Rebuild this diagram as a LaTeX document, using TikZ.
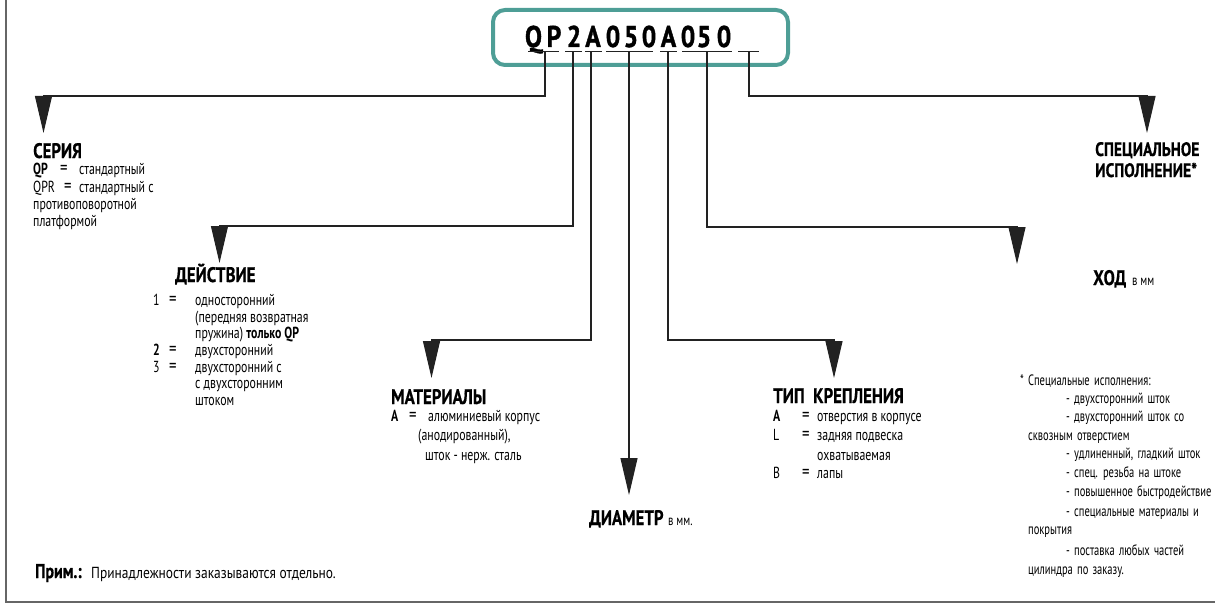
\documentclass[tikz,border=0pt]{standalone}
\usepackage{fontspec}
\setmainfont{PT Sans}
\newfontfamily\nf{PT Sans}[FakeStretch=0.8, FakeBold=0.6]
\newfontfamily\bodyfam{PT Sans}[FakeStretch=0.74]
\newfontfamily\wf{PT Sans}[FakeStretch=0.84]
\newfontfamily\ff{PT Sans}[FakeStretch=0.7, WordSpace=1.5]
\newfontfamily\cf{PT Sans}[FakeStretch=0.85, FakeBold=1.2]
\newcommand{\eqs}{\smash{\fontsize{20}{20}\selectfont =}}
\usetikzlibrary{arrows.meta}
\definecolor{tealbox}{HTML}{4E9E96}
\definecolor{ink}{HTML}{222222}
\tikzset{
  head/.style={font=\nf\bfseries\fontsize{21}{23}\selectfont, anchor=base west, inner sep=0pt, text=black},
  body/.style={font=\bodyfam\fontsize{16}{18}\selectfont, anchor=base west, inner sep=0pt, text=black},
  bodyb/.style={font=\bodyfam\bfseries\fontsize{16}{18}\selectfont, anchor=base west, inner sep=0pt, text=black},
  eqn/.style={font=\bodyfam\fontsize{16}{18}\selectfont, anchor=base west, inner sep=0pt, text=black},
  small/.style={font=\bodyfam\fontsize{14.5}{16}\selectfont, anchor=base west, inner sep=0pt, text=black},
  note/.style={font=\wf\fontsize{16}{18}\selectfont, anchor=base west, inner sep=0pt, text=black},
  fnote/.style={font=\ff\fontsize{15}{17}\selectfont, anchor=base west, inner sep=0pt, text=black},
  code/.style={font=\cf\bfseries\fontsize{30}{32}\selectfont, anchor=base, inner sep=0pt, text=black},
  conn/.style={draw=ink, line width=1.1pt, -{Triangle[width=17pt,length=37pt]}},
  uline/.style={draw=ink, line width=1pt},
}
\begin{document}
\begin{tikzpicture}[x=1pt,y=-1pt]
\useasboundingbox (0,0) rectangle (1215,607);
% frame
\draw[draw=black!60, line width=1.5pt] (6,0) -- (6,602) -- (1215,602);
% code box
\draw[tealbox, line width=4pt, rounded corners=12pt] (493,10) rectangle (788,65);
\foreach \c/\x [count=\i] in {Q/533.5,P/554,2/574,A/593,0/613,5/631,0/649,A/668.5,0/688,5/704,0/724}
  \node[code] (ch\i) at (\x,47) {\c};
% underlines
\draw[uline] (528,52) -- (559,52);
\draw[uline] (565,52) -- (582,52);
\draw[uline] (585,52) -- (602,52);
\draw[uline] (606,52) -- (653,52);
\draw[uline] (660,52) -- (677,52);
\draw[uline] (682,52) -- (732,52);
\draw[uline] (738,52) -- (759,52);
% tap, knee and tip coordinates
\coordinate (t1) at (545,52);  \coordinate (k1) at (43.5,96);   \coordinate (a1) at (43.5,133);
\coordinate (t2) at (573,52);  \coordinate (k2) at (219.5,226); \coordinate (a2) at (219.5,263);
\coordinate (t3) at (591,52);  \coordinate (k3) at (431.5,340); \coordinate (a3) at (431.5,378);
\coordinate (t4) at (629,52);                                   \coordinate (a4) at (629,495);
\coordinate (t5) at (668,52);  \coordinate (k5) at (834,340);   \coordinate (a5) at (834,378);
\coordinate (t6) at (707,52);  \coordinate (k6) at (1017,227);  \coordinate (a6) at (1017,264);
\coordinate (t7) at (749,52);  \coordinate (k7) at (1147,96);   \coordinate (a7) at (1147,133);
\draw[conn] (t1) |- (k1) -- (a1);
\draw[conn] (t2) |- (k2) -- (a2);
\draw[conn] (t3) |- (k3) -- (a3);
\draw[conn] (t4) -- (a4);
\draw[conn] (t5) |- (k5) -- (a5);
\draw[conn] (t6) |- (k6) -- (a6);
\draw[conn] (t7) |- (k7) -- (a7);
% СЕРИЯ
\node[head] (ser) at (33,158) {СЕРИЯ};
\node[bodyb] (ser1a) at (33,175) {QP};
\node[eqn] (ser1b) at (60,175) {\eqs};
\node[body] (ser1c) at (79,175) {стандартный};
\node[body] (ser2a) at (33,192) {QPR};
\node[eqn] (ser2b) at (64,192) {\eqs};
\node[body] (ser2c) at (79,192) {стандартный с};
\node[body] (ser3) at (33,209) {противоповоротной};
\node[body] (ser4) at (33,226) {платформой};
% ДЕЙСТВИЕ
\node[head] (act) at (175,282) {ДЕЙСТВИЕ};
\node[body] (act1a) at (153,305) {1};
\node[eqn] (act1b) at (169,305) {\eqs};
\node[body] (act1c) at (195,305) {односторонний};
\node[body] (act2) at (195,322) {(передняя возвратная};
\node[body] (act3) at (195,338) {пружина) \textbf{только QP}};
\node[bodyb] (act4a) at (153,355) {2};
\node[eqn] (act4b) at (169,355) {\eqs};
\node[body] (act4c) at (195,355) {двухсторонний};
\node[body] (act5a) at (153,372) {3};
\node[eqn] (act5b) at (169,372) {\eqs};
\node[body] (act5c) at (195,372) {двухсторонний с};
\node[body] (act6) at (195,388) {с двухсторонним};
\node[body] (act7) at (195,405) {штоком};
% МАТЕРИАЛЫ
\node[head] (mat) at (391,404) {МАТЕРИАЛЫ};
\node[bodyb] (mat1a) at (391,421) {A};
\node[eqn] (mat1b) at (409,421) {\eqs};
\node[body] (mat1c) at (428,421) {алюминиевый корпус};
\node[body] (mat2) at (418,440) {(анодированный),};
\node[body] (mat3) at (425,460) {шток - нерж. сталь};
% ДИАМЕТР
\node[head] (dia) at (589,525) {ДИАМЕТР};
\node[small] (dia2) at (668,525) {в мм.};
% ТИП КРЕПЛЕНИЯ
\node[head] (mnt) at (773,403) {ТИП\ \ КРЕПЛЕНИЯ};
\node[bodyb] (mnt1a) at (773,421) {A};
\node[eqn] (mnt1b) at (802,421) {\eqs};
\node[body] (mnt1c) at (817,421) {отверстия\ в\ корпусе};
\node[body] (mnt2a) at (773,440) {L};
\node[eqn] (mnt2b) at (802,440) {\eqs};
\node[body] (mnt2c) at (817,440) {задняя\ подвеска};
\node[body] (mnt3) at (817,460) {охватываемая};
\node[body] (mnt4a) at (773,478) {B};
\node[eqn] (mnt4b) at (802,478) {\eqs};
\node[body] (mnt4c) at (817,478) {лапы};
% ХОД
\node[head] (hod) at (1093,285) {ХОД};
\node[small] (hod2) at (1132,285) {в мм};
% СПЕЦИАЛЬНОЕ ИСПОЛНЕНИЕ
\node[head, font=\nf\bfseries\fontsize{19.5}{21}\selectfont] (sp1) at (1095,156) {СПЕЦИАЛЬНОЕ};
\node[head, font=\nf\bfseries\fontsize{19.5}{21}\selectfont] (sp2) at (1095,177) {ИСПОЛНЕНИЕ*};
% footnote
\node[fnote] (f0) at (1020,385) {* Специальные исполнения:};
\node[fnote] (f1) at (1066,403) {- двухсторонний шток};
\node[fnote] (f2) at (1066,421) {- двухсторонний шток со};
\node[fnote] (f3) at (1028,440) {сквозным отверстием};
\node[fnote] (f4) at (1066,458) {- удлиненный, гладкий шток};
\node[fnote] (f5) at (1066,477) {- спец. резьба на штоке};
\node[fnote] (f6) at (1066,496) {- повышенное быстродействие};
\node[fnote] (f7) at (1066,516) {- специальные материалы и};
\node[fnote] (f8) at (1028,534) {покрытия};
\node[fnote] (f9) at (1066,555) {- поставка любых частей};
\node[fnote] (f10) at (1028,574) {цилиндра по заказу.};
% Прим.
\node[bodyb, font=\nf\bfseries\fontsize{20}{22}\selectfont] (pr1) at (35,578) {Прим.:};
\node[note] (pr2) at (91,578) {Принадлежности заказываются отдельно.};
\end{tikzpicture}
\end{document}
